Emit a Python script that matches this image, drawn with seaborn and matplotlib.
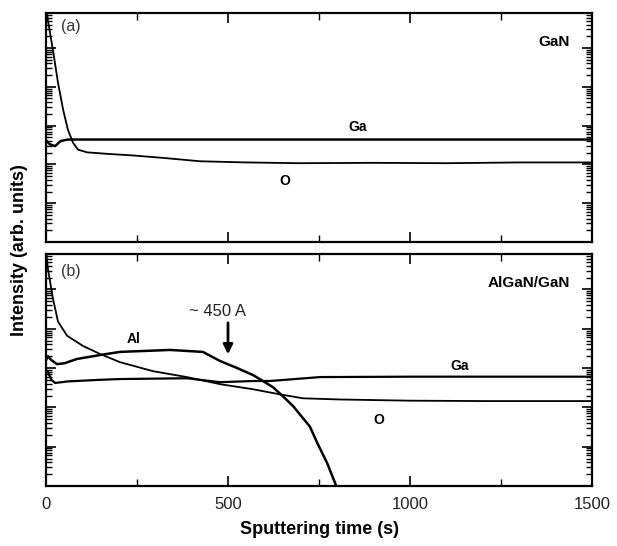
import numpy as np
import pandas as pd
import matplotlib
matplotlib.use("Agg")
import matplotlib.pyplot as plt
import seaborn as sns
from matplotlib.ticker import MultipleLocator, LogLocator, NullFormatter

# ---------------- data (log10 of intensity, arb. units) ----------------
# Panel (a): GaN
t_O_a = [0, 5, 19, 33, 47, 60, 74, 88, 113, 170, 239, 330, 423, 550, 698, 900, 1100, 1300, 1500]
logO_a = [6.2, 5.72, 4.95, 4.10, 3.41, 2.90, 2.56, 2.38, 2.31, 2.27, 2.23, 2.16, 2.08, 2.05, 2.03, 2.04, 2.03, 2.05, 2.05]

t_Ga_a = [0, 10, 25, 40, 60, 100, 500, 1000, 1500]
logGa_a = [2.62, 2.52, 2.47, 2.60, 2.64, 2.64, 2.64, 2.64, 2.64]

# Panel (b): AlGaN/GaN
t_O_b = [0, 5, 19, 33, 58, 102, 148, 203, 294, 387, 478, 569, 643, 706, 808, 1000, 1200, 1500]
logO_b = [6.0, 5.54, 4.77, 4.18, 3.82, 3.56, 3.36, 3.15, 2.92, 2.77, 2.59, 2.46, 2.33, 2.23, 2.20, 2.17, 2.16, 2.16]

t_Ga_b = [0, 5, 15, 25, 60, 148, 203, 387, 478, 569, 615, 753, 1000, 1500]
logGa_b = [2.95, 2.90, 2.70, 2.62, 2.66, 2.70, 2.72, 2.74, 2.64, 2.67, 2.67, 2.77, 2.78, 2.78]

t_Al_b = [0, 5, 15, 30, 50, 85, 148, 203, 341, 431, 478, 525, 569, 596, 624, 651, 679, 725, 745, 772, 794, 805]
logAl_b = [3.20, 3.30, 3.20, 3.10, 3.12, 3.23, 3.33, 3.41, 3.46, 3.41, 3.18, 3.00, 2.82, 2.67, 2.51, 2.28, 2.03, 1.51, 1.10, 0.59, 0.08, -0.2]

xticks = [0, 500, 1000, 1500]
xticklabels = ["0", "500", "1000", "1500"]

# ---------------- figure ----------------
sns.set_style("ticks", rc={"axes.edgecolor": "black", "xtick.color": "black",
                           "ytick.color": "black", "text.color": "black",
                           "axes.labelcolor": "black"})
plt.rcParams["font.family"] = ["Liberation Sans", "DejaVu Sans"]

fig = plt.figure(figsize=(6.17, 5.46), dpi=100)
L, R = 46 / 617, 592 / 617
ax_a = fig.add_axes([L, 1 - 242 / 546, R - L, (242 - 13) / 546])
ax_b = fig.add_axes([L, 1 - 486 / 546, R - L, (486 - 254) / 546])

ylo, yhi = 10 ** 0.0, 10 ** 5.9


def draw(ax, t, lv, lw):
    sns.lineplot(x=np.array(t, float), y=10 ** np.array(lv, float), ax=ax,
                 color="black", lw=lw, sort=False, estimator=None)


draw(ax_a, t_O_a, logO_a, 1.3)
draw(ax_a, t_Ga_a, logGa_a, 1.8)
draw(ax_b, t_O_b, logO_b, 1.3)
draw(ax_b, t_Ga_b, logGa_b, 1.6)
draw(ax_b, t_Al_b, logAl_b, 1.8)

for ax in (ax_a, ax_b):
    ax.set_yscale("log")
    ax.set_xlim(0, 1500)
    ax.set_ylim(ylo, yhi)
    ax.set_xticks(xticks)
    ax.xaxis.set_minor_locator(MultipleLocator(250))
    ax.yaxis.set_major_locator(LogLocator(base=10, numticks=20))
    ax.yaxis.set_minor_locator(LogLocator(base=10, subs=np.arange(2, 10), numticks=20))
    ax.yaxis.set_major_formatter(NullFormatter())
    ax.yaxis.set_minor_formatter(NullFormatter())
    ax.tick_params(which="major", direction="in", length=7, width=1.2, color="black",
                   top=True, right=True, left=True, bottom=True)
    ax.tick_params(which="minor", direction="in", length=4, width=1.0, color="black",
                   top=True, right=True, left=True, bottom=True)
    ax.tick_params(axis="x", which="minor", length=5)
    for s in ax.spines.values():
        s.set_linewidth(1.6)
        s.set_edgecolor("black")
        s.set_visible(True)
    ax.set_xlabel("")
    ax.set_ylabel("")

ax_a.set_xticklabels([])
ax_b.set_xticklabels(xticklabels, fontsize=12, color="#222222")
ax_b.tick_params(axis="x", pad=8)

# ---------------- annotations ----------------
ax_a.text(40, 10 ** 5.55, "(a)", fontsize=11.5, color="#333333", ha="left", va="center")
ax_a.text(1440, 10 ** 5.15, "GaN", fontsize=11, fontweight="bold", ha="right", va="center")
ax_a.text(857, 10 ** 2.97, "Ga", fontsize=10, fontweight="bold", ha="center", va="center")
ax_a.text(657, 10 ** 1.56, "O", fontsize=10, fontweight="bold", ha="center", va="center")

ax_b.text(40, 10 ** 5.45, "(b)", fontsize=11.5, color="#333333", ha="left", va="center")
ax_b.text(1440, 10 ** 5.15, "AlGaN/GaN", fontsize=11, fontweight="bold", ha="right", va="center")
ax_b.text(1137, 10 ** 3.05, "Ga", fontsize=10, fontweight="bold", ha="center", va="center")
ax_b.text(915, 10 ** 1.69, "O", fontsize=10, fontweight="bold", ha="center", va="center")
ax_b.text(240, 10 ** 3.74, "Al", fontsize=10, fontweight="bold", ha="center", va="center")
ax_b.text(470, 10 ** 4.44, "~ 450 A", fontsize=12, color="#222222", ha="center", va="center")
ax_b.annotate("", xy=(500, 10 ** 3.28), xytext=(500, 10 ** 4.22),
              arrowprops=dict(arrowstyle="-|>", lw=2.0, color="black", mutation_scale=14))

fig.text(20 / 617, 1 - 250 / 546, "Intensity (arb. units)", rotation=90,
         fontsize=13, fontweight="bold", ha="center", va="center")
fig.text((46 + 592) / 2 / 617, 1 - 530 / 546, "Sputtering time (s)",
         fontsize=13, fontweight="bold", ha="center", va="center")

fig.savefig("out.png", dpi=100)
